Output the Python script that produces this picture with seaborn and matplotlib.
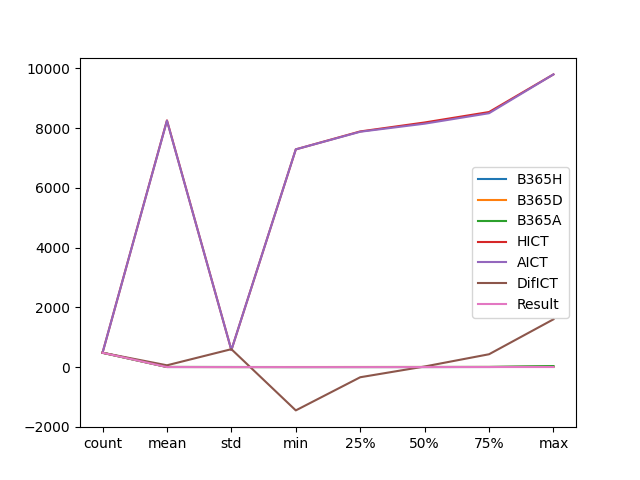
"""Line plot of describe() statistics per column."""

import matplotlib
matplotlib.use('Agg')
import matplotlib.pyplot as plt
import pandas as pd
import seaborn as sns

STATS = ['count', 'mean', 'std', 'min', '25%', '50%', '75%', 'max']

B365H = [480, 2.6, 1.9, 1.1, 1.6, 2.1, 2.9, 12.0]
B365D = [480, 4.0, 1.2, 2.9, 3.3, 3.6, 4.2, 13.0]
B365A = [480, 4.6, 3.8, 1.2, 2.3, 3.4, 5.3, 34.0]
HICT = [480, 8260, 570, 7290, 7890, 8190, 8540, 9800]
AICT = [480, 8250, 570, 7290, 7880, 8150, 8500, 9800]
DIFICT = [480, 60, 600, -1450, -340, 20, 430, 1600]
RESULT = [480, 1.1, 0.8, 0.0, 0.0, 1.0, 2.0, 2.0]

df = pd.DataFrame({
    'B365H': B365H,
    'B365D': B365D,
    'B365A': B365A,
    'HICT': HICT,
    'AICT': AICT,
    'DifICT': DIFICT,
    'Result': RESULT,
}, index=STATS)

fig, ax = plt.subplots(figsize=(6.4, 4.8), dpi=100)
sns.lineplot(data=df, ax=ax, dashes=False, palette='tab10', sort=False)
ax.set_xticks(range(len(STATS)))
ax.set_xticklabels(STATS)
ax.set_xlabel('')
ax.set_ylabel('')
ax.legend(loc='center right')

plt.savefig('out.png', dpi=100)
